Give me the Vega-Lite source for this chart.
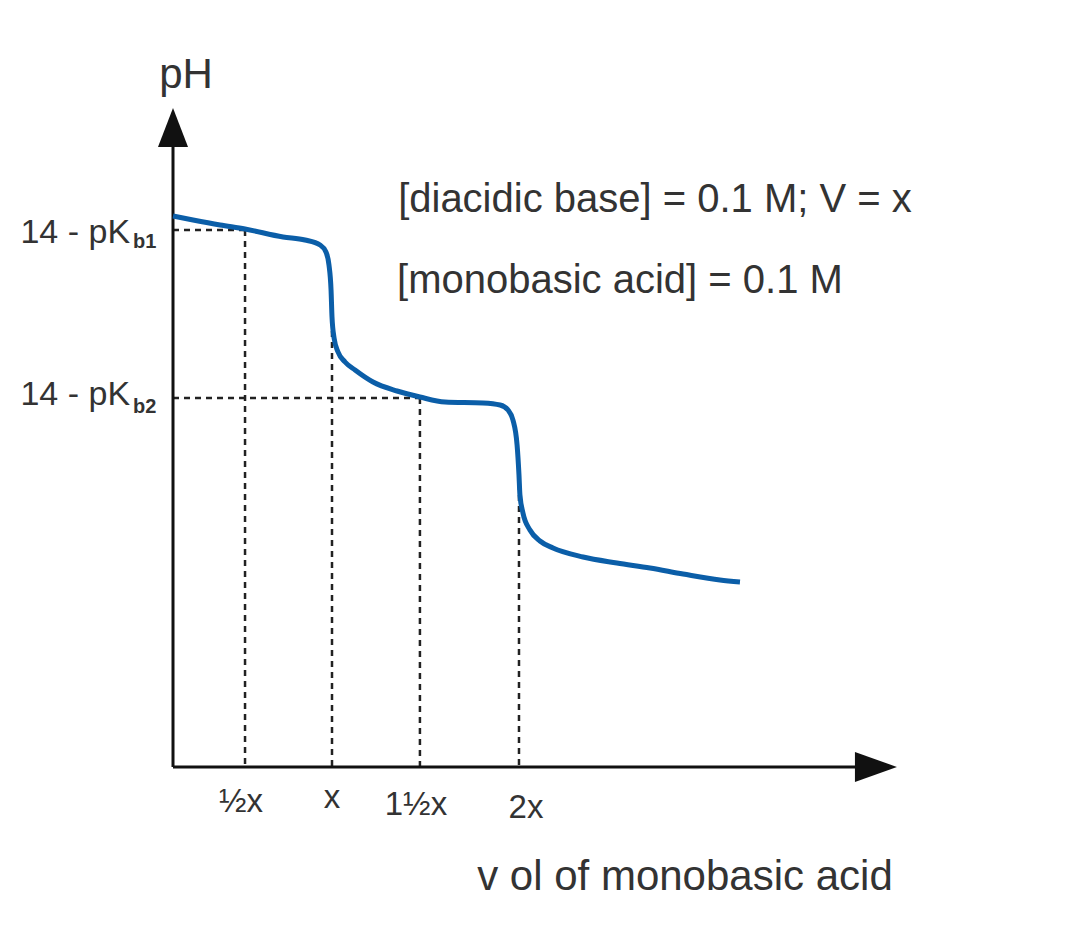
{
  "$schema": "https://vega.github.io/schema/vega-lite/v6.json",
  "description": "Titration curve of a diacidic base with a monobasic acid.",
  "width": 1066,
  "height": 938,
  "autosize": {"type": "none"},
  "padding": 0,
  "background": "white",
  "config": {"view": {"stroke": null}},
  "datasets": {
    "curve": [
      {"v": 0, "ph": 13.775}, {"v": 0.126, "ph": 13.675}, {"v": 0.296, "ph": 13.55},
      {"v": 0.453, "ph": 13.45}, {"v": 0.692, "ph": 13.25}, {"v": 0.83, "ph": 13.175},
      {"v": 0.925, "ph": 13.05}, {"v": 0.962, "ph": 12.875}, {"v": 0.981, "ph": 12.55},
      {"v": 0.994, "ph": 11.925}, {"v": 1.0, "ph": 11.25}, {"v": 1.013, "ph": 10.725},
      {"v": 1.038, "ph": 10.375}, {"v": 1.082, "ph": 10.125}, {"v": 1.145, "ph": 9.925},
      {"v": 1.258, "ph": 9.625}, {"v": 1.409, "ph": 9.4}, {"v": 1.553, "ph": 9.25},
      {"v": 1.711, "ph": 9.125}, {"v": 1.95, "ph": 9.1}, {"v": 2.057, "ph": 9.05},
      {"v": 2.107, "ph": 8.925}, {"v": 2.138, "ph": 8.675}, {"v": 2.164, "ph": 8.05},
      {"v": 2.176, "ph": 7.3}, {"v": 2.182, "ph": 6.8}, {"v": 2.201, "ph": 6.35},
      {"v": 2.245, "ph": 5.925}, {"v": 2.308, "ph": 5.65}, {"v": 2.39, "ph": 5.475},
      {"v": 2.579, "ph": 5.25}, {"v": 2.792, "ph": 5.1}, {"v": 3.0, "ph": 4.975},
      {"v": 3.208, "ph": 4.825}, {"v": 3.44, "ph": 4.675}, {"v": 3.566, "ph": 4.625}
    ],
    "guides": [
      {"v": 0, "ph": 13.425, "v2": 0.453, "ph2": 13.425},
      {"v": 0.453, "ph": 13.425, "v2": 0.453, "ph2": 0},
      {"v": 0, "ph": 9.225, "v2": 1.553, "ph2": 9.225},
      {"v": 1.0, "ph": 11.175, "v2": 1.0, "ph2": 0},
      {"v": 1.553, "ph": 9.225, "v2": 1.553, "ph2": 0},
      {"v": 2.176, "ph": 7.35, "v2": 2.176, "ph2": 0}
    ],
    "axes": [
      {"v": 0, "ph": 0, "v2": 0, "ph2": 15.9},
      {"v": 0, "ph": 0, "v2": 4.32, "ph2": 0}
    ],
    "arrows": [
      {"v": 0, "ph": 15.99, "dir": "up"},
      {"v": 4.421, "ph": 0, "dir": "right"}
    ],
    "ticks": [
      {"v": 0.428, "ph": -1.125, "label": "½x"},
      {"v": 1.0, "ph": -1.025, "label": "x"},
      {"v": 1.528, "ph": -1.2, "label": "1½x"},
      {"v": 2.22, "ph": -1.275, "label": "2x"}
    ],
    "levels": [
      {"v": -0.27, "ph": 13.1, "label": "14 - pK"},
      {"v": -0.27, "ph": 9.05, "label": "14 - pK"}
    ],
    "subs": [
      {"v": -0.252, "ph": 12.975, "label": "b1"},
      {"v": -0.252, "ph": 8.85, "label": "b2"}
    ],
    "notes": [
      {"v": 3.031, "ph": 13.875, "label": "[diacidic base] = 0.1 M; V = x"},
      {"v": 2.811, "ph": 11.85, "label": "[monobasic acid] = 0.1 M"}
    ],
    "titles": [
      {"v": 3.22, "ph": -3.075, "label": "v ol of monobasic acid"},
      {"v": 0.082, "ph": 16.975, "label": "pH"}
    ]
  },
  "encoding": {
    "x": {"field": "v", "type": "quantitative", "axis": null,
          "scale": {"domain": [-1.0881, 5.6164], "nice": false, "zero": false}},
    "y": {"field": "ph", "type": "quantitative", "axis": null,
          "scale": {"domain": [-4.275, 19.175], "nice": false, "zero": false}}
  },
  "layer": [
    {
      "data": {"name": "guides"},
      "mark": {"type": "rule", "color": "#222222", "strokeWidth": 2.5, "strokeDash": [6, 5]},
      "encoding": {
        "x2": {"field": "v2"},
        "y2": {"field": "ph2"}
      }
    },
    {
      "data": {"name": "axes"},
      "mark": {"type": "rule", "color": "#111111", "strokeWidth": 3},
      "encoding": {
        "x2": {"field": "v2"},
        "y2": {"field": "ph2"}
      }
    },
    {
      "data": {"name": "arrows"},
      "mark": {"type": "point", "filled": true, "opacity": 1, "color": "#111111"},
      "encoding": {
        "shape": {
          "field": "dir", "type": "nominal", "legend": null,
          "scale": {"domain": ["up", "right"],
                    "range": ["M0,-1L0.77,1L-0.77,1Z", "M1,0L-1,-0.72L-1,0.72Z"]}
        },
        "size": {
          "field": "dir", "type": "nominal", "legend": null,
          "scale": {"domain": ["up", "right"], "range": [1521, 1764]}
        }
      }
    },
    {
      "data": {"name": "curve"},
      "mark": {"type": "line", "color": "#0b5ea8", "strokeWidth": 5, "strokeJoin": "round", "interpolate": "monotone"}
    },
    {
      "data": {"name": "ticks"},
      "mark": {"type": "text", "font": "Liberation Sans", "fontSize": 33, "align": "center", "baseline": "alphabetic", "color": "#333333"},
      "encoding": {"text": {"field": "label"}}
    },
    {
      "data": {"name": "levels"},
      "mark": {"type": "text", "font": "Liberation Sans", "fontSize": 34, "align": "right", "baseline": "alphabetic", "color": "#333333"},
      "encoding": {"text": {"field": "label"}}
    },
    {
      "data": {"name": "subs"},
      "mark": {"type": "text", "font": "Liberation Sans", "fontSize": 20, "fontWeight": "bold", "align": "left", "baseline": "alphabetic", "color": "#333333"},
      "encoding": {"text": {"field": "label"}}
    },
    {
      "data": {"name": "notes"},
      "mark": {"type": "text", "font": "Liberation Sans", "fontSize": 40, "align": "center", "baseline": "alphabetic", "color": "#333333"},
      "encoding": {"text": {"field": "label"}}
    },
    {
      "data": {"name": "titles"},
      "mark": {"type": "text", "font": "Liberation Sans", "fontSize": 42, "align": "center", "baseline": "alphabetic", "color": "#333333"},
      "encoding": {"text": {"field": "label"}}
    }
  ]
}
